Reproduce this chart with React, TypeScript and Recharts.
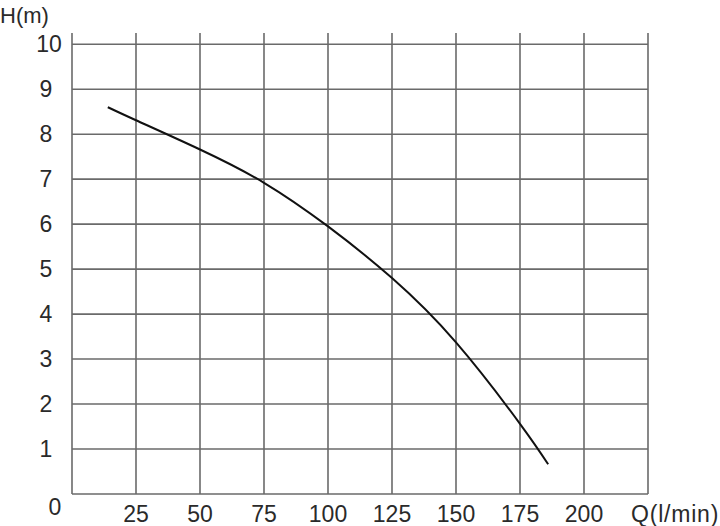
import React from 'react';
import { LineChart, Line, XAxis, YAxis, ReferenceLine } from 'recharts';

// pump curve: flow Q (l/min) vs head H (m)
const flow = [14, 25, 50, 75, 100, 125, 150, 175, 186];
const head = [8.6, 8.31, 7.66, 6.92, 5.95, 4.8, 3.37, 1.56, 0.66];

const xTicks = [0, 25, 50, 75, 100, 125, 150, 175, 200, 225];
const yTicks = [0, 1, 2, 3, 4, 5, 6, 7, 8, 9, 10];

const data = flow.map((q, i) => ({ q, h: head[i] }));

const FONT = '"Liberation Sans", Arial, sans-serif';
const GRID = '#6a6a6a';
const TEXT = '#2a2a2a';

const XTick = (props: any) => {
  const { x, payload } = props;
  const v = payload.value;
  if (v === 0 || v === 225) return <g />;
  return (
    <text x={x} y={522} textAnchor="middle" fontSize={23} fontFamily={FONT} fill={TEXT}>
      {v}
    </text>
  );
};

const YTick = (props: any) => {
  const { y, payload } = props;
  const v = payload.value;
  if (v === 0) {
    return (
      <text x={55} y={515} textAnchor="middle" fontSize={23} fontFamily={FONT} fill={TEXT}>
        0
      </text>
    );
  }
  return (
    <text x={v === 10 ? 49 : 46} y={y + 8} textAnchor="middle" fontSize={23} fontFamily={FONT} fill={TEXT}>
      {v}
    </text>
  );
};

export default function App() {
  return (
    <div style={{ position: 'absolute', left: 0, top: 0, background: '#fff' }}>
      <LineChart
        width={720}
        height={526}
        data={data}
        margin={{ top: 33, right: 72, bottom: 0, left: 0 }}
      >
        <XAxis
          type="number"
          dataKey="q"
          domain={[0, 225]}
          ticks={xTicks}
          interval={0}
          tick={<XTick />}
          tickLine={false}
          axisLine={false}
          height={32}
        />
        <YAxis
          type="number"
          domain={[0, 10.25]}
          ticks={yTicks}
          interval={0}
          tick={<YTick />}
          tickLine={false}
          axisLine={false}
          width={72}
          allowDataOverflow
        />
        {yTicks.map((v) => (
          <ReferenceLine key={'y' + v} y={v} stroke={GRID} strokeWidth={1.6} ifOverflow="visible" />
        ))}
        {xTicks.map((v) => (
          <ReferenceLine key={'x' + v} x={v} stroke={GRID} strokeWidth={1.6} ifOverflow="visible" />
        ))}
        <Line
          type="natural"
          dataKey="h"
          stroke="#111"
          strokeWidth={2}
          dot={false}
          isAnimationActive={false}
        />
        <text x={0} y={23} fontSize={22} fontFamily={FONT} fill={TEXT}>
          H(m)
        </text>
        <text x={631} y={522} fontSize={23} letterSpacing={0.8} fontFamily={FONT} fill={TEXT}>
          Q(l/min)
        </text>
      </LineChart>
    </div>
  );
}
